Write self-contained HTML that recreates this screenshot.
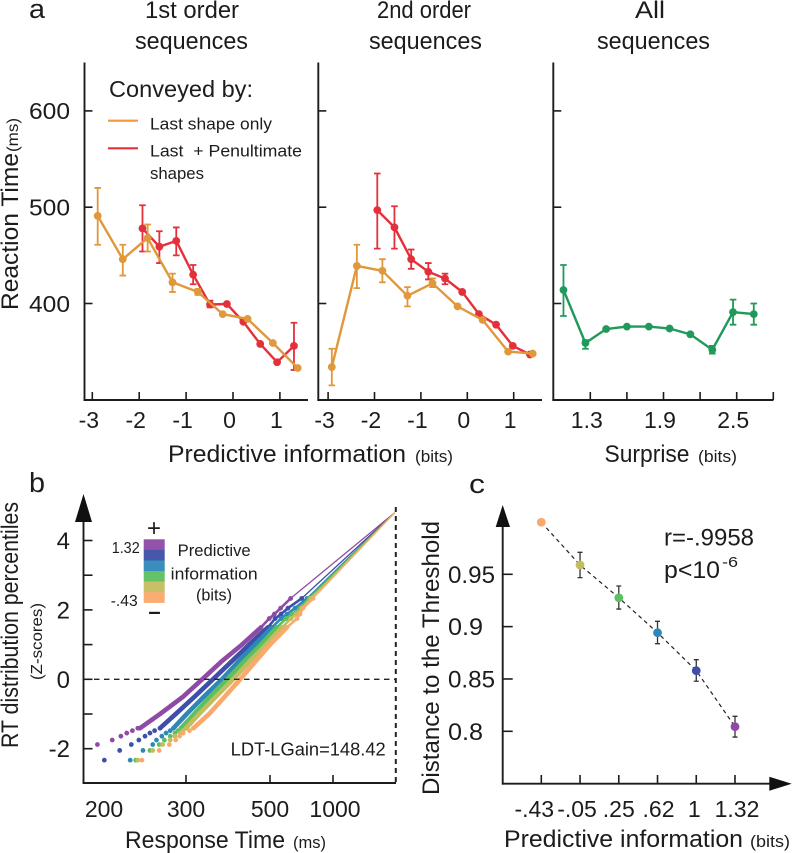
<!DOCTYPE html>
<html lang="en">
<head>
<meta charset="utf-8">
<title>Reaction time and predictive information figure</title>
<style>
html,body{margin:0;padding:0;background:#fff;width:792px;height:853px;overflow:hidden}
svg{display:block}
text{font-family:"Liberation Sans",sans-serif;fill:#1c1c1c}
</style>
</head>
<body>
<svg id="fig" xmlns="http://www.w3.org/2000/svg" width="792" height="853" viewBox="0 0 792 853">
<rect x="0" y="0" width="792" height="853" fill="#fff"/>

<text x="29" y="18" font-size="27" textLength="16" lengthAdjust="spacingAndGlyphs">a</text>
<text x="29" y="492" font-size="28" textLength="16" lengthAdjust="spacingAndGlyphs">b</text>
<text x="469" y="493" font-size="27" textLength="16" lengthAdjust="spacingAndGlyphs">c</text>

<text x="145" y="18" font-size="24" textLength="94" lengthAdjust="spacingAndGlyphs">1st order</text>
<text x="135" y="49" font-size="24" textLength="113" lengthAdjust="spacingAndGlyphs">sequences</text>
<text x="377" y="18" font-size="24" textLength="94" lengthAdjust="spacingAndGlyphs">2nd order</text>
<text x="369" y="49" font-size="24" textLength="113" lengthAdjust="spacingAndGlyphs">sequences</text>
<text x="635" y="18" font-size="24" textLength="30" lengthAdjust="spacingAndGlyphs">All</text>
<text x="597" y="49" font-size="24" textLength="113" lengthAdjust="spacingAndGlyphs">sequences</text>

<text transform="translate(18,310) rotate(-90)" font-size="24" textLength="157" lengthAdjust="spacingAndGlyphs">Reaction Time</text>
<text transform="translate(18,152) rotate(-90)" font-size="16" textLength="34" lengthAdjust="spacingAndGlyphs">(ms)</text>

<text x="109" y="97" font-size="23" textLength="144" lengthAdjust="spacingAndGlyphs">Conveyed by:</text>
<line x1="108" y1="120.7" x2="138" y2="120.7" stroke="#f3993a" stroke-width="2.2"/>
<text x="150" y="129.3" font-size="17" textLength="122" lengthAdjust="spacingAndGlyphs">Last shape only</text>
<line x1="108" y1="148.3" x2="138" y2="148.3" stroke="#e8303a" stroke-width="2.2"/>
<text x="150" y="156.7" font-size="17" textLength="152" lengthAdjust="spacingAndGlyphs" xml:space="preserve">Last  + Penultimate</text>
<text x="150" y="179" font-size="17" textLength="54" lengthAdjust="spacingAndGlyphs">shapes</text>

<text x="168" y="462" font-size="24" textLength="238" lengthAdjust="spacingAndGlyphs">Predictive information</text>
<text x="415" y="462" font-size="16.5" textLength="38" lengthAdjust="spacingAndGlyphs">(bits)</text>
<text x="604.5" y="462" font-size="24" textLength="85" lengthAdjust="spacingAndGlyphs">Surprise</text>
<text x="698" y="462" font-size="16.5" textLength="39" lengthAdjust="spacingAndGlyphs">(bits)</text>

<g id="panelA1"></g>
<g id="panelA2"></g>
<g id="panelA3"></g>

<text transform="translate(18,748) rotate(-90)" font-size="24" textLength="246" lengthAdjust="spacingAndGlyphs">RT distribution percentiles</text>
<text transform="translate(42,680) rotate(-90)" font-size="16" textLength="77" lengthAdjust="spacingAndGlyphs">(Z-scores)</text>
<g id="panelB"></g>
<text x="154" y="536" font-size="24" text-anchor="middle">+</text>
<text x="154.5" y="619" font-size="22" font-weight="bold" text-anchor="middle">–</text>
<text x="111.7" y="553" font-size="16" textLength="28" lengthAdjust="spacingAndGlyphs">1.32</text>
<text x="110.7" y="606" font-size="16" textLength="27" lengthAdjust="spacingAndGlyphs">-.43</text>
<text x="177.7" y="556" font-size="16.5" textLength="73" lengthAdjust="spacingAndGlyphs">Predictive</text>
<text x="170.7" y="579.3" font-size="16.5" textLength="87" lengthAdjust="spacingAndGlyphs">information</text>
<text x="196" y="600.7" font-size="16.5" textLength="36" lengthAdjust="spacingAndGlyphs">(bits)</text>
<text x="230.7" y="755.7" font-size="18" textLength="155" lengthAdjust="spacingAndGlyphs">LDT-LGain=148.42</text>
<text x="125" y="848" font-size="24" textLength="160" lengthAdjust="spacingAndGlyphs">Response Time</text>
<text x="293" y="848" font-size="16.5" textLength="33" lengthAdjust="spacingAndGlyphs">(ms)</text>

<text transform="translate(439,795) rotate(-90)" font-size="24" textLength="274" lengthAdjust="spacingAndGlyphs">Distance to the Threshold</text>
<g id="panelC"></g>
<text x="664" y="545.7" font-size="24" textLength="90" lengthAdjust="spacingAndGlyphs">r=-.9958</text>
<text x="664" y="578" font-size="24" textLength="56" lengthAdjust="spacingAndGlyphs">p&lt;10</text>
<text x="722" y="567" font-size="15" textLength="16" lengthAdjust="spacingAndGlyphs">-6</text>
<text x="504" y="847" font-size="24" textLength="239" lengthAdjust="spacingAndGlyphs">Predictive information</text>
<text x="750" y="847" font-size="16.5" textLength="40" lengthAdjust="spacingAndGlyphs">(bits)</text>
</svg>

<script>
// ---------- Panel a data ----------
const rtTicks = [400, 500, 600];
const predTicks = [-3, -2, -1, 0, 1];
const surpriseTicks = [1.3, 1.6, 1.9, 2.2, 2.5, 2.8];
const surpriseTickLabels = ["1.3", "", "1.9", "", "2.5", ""];

const first_lastX = [-2.885, -2.35, -1.82, -1.29, -0.75, -0.22, 0.31, 0.85, 1.38];
const first_lastRT = [491, 446, 468, 422, 412, 389, 384, 359, 333];
const first_lastLow = [461, 429, 454, 412, 409, null, null, null, null];
const first_lastHigh = [520, 461, 482, 431, 415, null, null, null, null];

const first_pairX = [-1.93, -1.57, -1.21, -0.85, -0.49, -0.13, 0.22, 0.58, 0.94, 1.30];
const first_pairRT = [478, 459, 465, 430, 399, 399.5, 381, 358, 339, 356];
const first_pairLow = [454, 442, 450, 420, 396, null, null, null, null, 331];
const first_pairHigh = [502, 475, 479, 440, 403, null, null, null, null, 380];

const second_lastX = [-2.92, -2.38, -1.83, -1.29, -0.75, -0.21, 0.33, 0.88, 1.41];
const second_lastRT = [334, 439, 434, 408, 421, 397, 383, 350, 348];
const second_lastLow = [315, 416, 422, 397, 417, null, null, null, null];
const second_lastHigh = [353, 461, 446, 417, 426, null, null, null, null];

const second_pairX = [-1.94, -1.57, -1.21, -0.84, -0.48, -0.11, 0.25, 0.62, 0.98, 1.35];
const second_pairRT = [497, 479, 446, 433, 426, 412, 389, 378, 356, 347];
const second_pairLow = [457, 457, 436, 425, 420, null, null, null, null, null];
const second_pairHigh = [535, 501, 456, 442, 431, null, null, null, null, null];

const allX = [1.08, 1.26, 1.43, 1.60, 1.78, 1.95, 2.12, 2.30, 2.47, 2.64];
const allRT = [414, 359, 373.5, 376, 376, 374, 368, 352, 391, 389];
const allLow = [387, 353, null, null, null, null, null, 348, 378, 378];
const allHigh = [440, 362, null, null, null, null, null, 356, 404, 400];

// ---------- Panel b data (response time in ms at each z-score) ----------
const zTicks = [4, 3, 2, 1, 0, -1, -2];
const zTickLabels = ["4", "", "2", "", "0", "", "-2"];
const rtAxisTicks = [300, 500, 1000];
const rtAxisLabels = [200, 300, 500, 1000];
const zTail = [-2.33, -2.05, -1.88, -1.75, -1.64, -1.55, -1.48, -1.41];
const zBand = [-1.41, -1, -0.5, 0, 0.5, 1, 1.5];
const zTop = [1.75, 1.88, 2.05, 2.33];
const zTip = 4.8;
const rtTip = 50000;

const purpleTail = [null, null, 211, 222, 229, 234, 239, 244];
const purpleBand = [246, 267, 296, 325, 360, 409, 467];
const purpleTop = [497, 518, 546, 598];
const blueTail = [216, 228, 238, 245, 251, 256, 261, 267];
const blueBand = [267, 286, 313, 344, 382, 429, 492];
const blueTop = [521, 548, 583, 668];
const tealTail = [237, 249, 259, 263, 269, 274, 279, 283];
const tealBand = [283, 301, 328, 362, 399, 447, 508];
const tealTop = [548, 578, 624, 708];
const greenTail = [242, 256, 266, 272, 279, 285, 289, 293];
const greenBand = [293, 312, 339, 373, 414, 467, 529];
const greenTop = [573, 606, 656, 724];
const oliveTail = [244, 259, 270, 279, 285, 292, 296, 300];
const oliveBand = [300, 320, 350, 387, 429, 485, 553];
const oliveTop = [600, 630, 670, 741];
const orangeTail = [248, 266, 278, 286, 291, 296, 305, 311];
const orangeBand = [311, 337, 368, 404, 447, 500, 578];
const orangeTop = [636, 656, 677, 759];

const infoLevels = ["purple", "blue", "teal", "green", "olive", "orange"];

// ---------- Panel c data ----------
const cCategories = ["-.43", "-.05", ".25", ".62", "1", "1.32"];
const cValues = [0.9997, 0.9589, 0.9276, 0.8942, 0.8579, 0.8044];
const cLow = [null, 0.9468, 0.9168, 0.8837, 0.8478, 0.7945];
const cHigh = [null, 0.971, 0.9388, 0.9051, 0.8684, 0.8143];
const cTicks = [0.95, 0.9, 0.85, 0.8];
const cTickLabels = ["0.95", "0.9", "0.85", "0.8"];

// ---------- Styling ----------
const ORANGE = "#e0983c", RED = "#e4303a", GREEN = "#1f9a5a", INK = "#1c1c1c";
const levelColor = {purple:"#8e4aa5", blue:"#3d4fa8", teal:"#2f87b8", green:"#5cc060", olive:"#c4bd60", orange:"#f9a96c"};
const cLabelNudge = [-7, -3, 0, 1, -2, 2];

// ---------- Axis functions ----------
const yRT = v => 303.5 - (v - 400) * 0.963;
const xA1 = v => 233 + 46.9 * v;
const xA2 = v => 467.3 + 46.4 * v;
const xA3 = v => 590.3 + 122 * (v - 1.3);
const xB = rt => 396 - 63000 / rt;
const yB = z => 679.3 - 34.7 * z;
const xC = i => 541.3 + 38.74 * i;
const yC = v => 731.3 - (v - 0.8) * 1046.7;

const NS = "http://www.w3.org/2000/svg";
function mk(parent, tag, attrs, text) {
  const el = document.createElementNS(NS, tag);
  for (const k in attrs) el.setAttribute(k, attrs[k]);
  if (text !== undefined) el.textContent = text;
  parent.appendChild(el);
  return el;
}
function pts(list) { return list.map(p => p[0].toFixed(1) + "," + p[1].toFixed(1)).join(" "); }

function drawFrame(g, x0, x1, xFn, ticks, labels) {
  let el = mk(g, "line", {x1:x0, y1:62.5, x2:x0, y2:400.9, stroke:INK, "stroke-width":1.9});
  
  
  el = mk(g, "line", {x1:x0-0.9, y1:400, x2:x1, y2:400, stroke:INK, "stroke-width":1.9});
  
  
  rtTicks.forEach(v => {
    const t = mk(g, "line", {x1:x0, y1:yRT(v), x2:x0+8, y2:yRT(v), stroke:INK, "stroke-width":1.6});
    
    
  });
  ticks.forEach((v, i) => {
    const t = mk(g, "line", {x1:xFn(v), y1:400, x2:xFn(v), y2:392, stroke:INK, "stroke-width":1.6});
    
    
    if (labels[i] !== "") {
      const lab = mk(g, "text", {x:xFn(v)-3.5, y:428, "font-size":23, "text-anchor":"middle"}, labels[i]);
      
      
    }
  });
}

function drawSeries(g, name, xFn, xs, ys, lows, highs, color) {
  const line = mk(g, "polyline", {points:pts(xs.map((x,i)=>[xFn(x), yRT(ys[i])])), fill:"none", stroke:color, "stroke-width":2.4});
  
  
  xs.forEach((x, i) => {
    const px = xFn(x);
    if (lows[i] !== null) {
      const bar = mk(g, "path", {d:`M${px-3.3} ${yRT(highs[i])}H${px+3.3}M${px} ${yRT(highs[i])}V${yRT(lows[i])}M${px-3.3} ${yRT(lows[i])}H${px+3.3}`, fill:"none", stroke:color, "stroke-width":1.8});
      
      
    }
    const dot = mk(g, "circle", {cx:px, cy:yRT(ys[i]), r:3.9, fill:color});
    
    
  });
}

// ---------- Panel a ----------
const gA1 = document.getElementById("panelA1");
const gA2 = document.getElementById("panelA2");
const gA3 = document.getElementById("panelA3");
const predLabels = predTicks.map(String);
drawFrame(gA1, 84.5, 308, xA1, predTicks, predLabels);
drawFrame(gA2, 318.3, 542, xA2, predTicks, predLabels);
drawFrame(gA3, 553.3, 773.5, xA3, surpriseTicks, surpriseTickLabels);
rtTicks.forEach(v => {
  const lab = mk(gA1, "text", {x:70, y:yRT(v)+8.3, "font-size":23, "text-anchor":"end", textLength:41, lengthAdjust:"spacingAndGlyphs"}, String(v));
  
  
});
drawSeries(gA1, "first-order-pair", xA1, first_pairX, first_pairRT, first_pairLow, first_pairHigh, RED);
drawSeries(gA1, "first-order-last", xA1, first_lastX, first_lastRT, first_lastLow, first_lastHigh, ORANGE);
drawSeries(gA2, "second-order-pair", xA2, second_pairX, second_pairRT, second_pairLow, second_pairHigh, RED);
drawSeries(gA2, "second-order-last", xA2, second_lastX, second_lastRT, second_lastLow, second_lastHigh, ORANGE);
drawSeries(gA3, "all-sequences", xA3, allX, allRT, allLow, allHigh, GREEN);

// ---------- Panel b ----------
const gB = document.getElementById("panelB");
const bTails = [purpleTail, blueTail, tealTail, greenTail, oliveTail, orangeTail];
const bBands = [purpleBand, blueBand, tealBand, greenBand, oliveBand, orangeBand];
const bTops = [purpleTop, blueTop, tealTop, greenTop, oliveTop, orangeTop];

infoLevels.forEach((name, s) => {
  const color = levelColor[name];
  const segs = mk(gB, "rect", {x:143.7, y:539.3 + s*10.57, width:21, height:10.8, fill:color, opacity:0.95});
  
  
});

infoLevels.forEach((name, s) => {
  const color = levelColor[name];
  const tail = bTails[s], band = bBands[s], top = bTops[s];
  const tipLine = mk(gB, "polyline", {points:pts([[xB(top[3]), yB(zTop[3])], [xB(rtTip), yB(zTip)]]), fill:"none", stroke:color, "stroke-width":1.3});
  
  
  const midLine = mk(gB, "polyline", {points:pts([[xB(band[6]), yB(zBand[6])]].concat(top.map((rt,i)=>[xB(rt), yB(zTop[i])]))), fill:"none", stroke:color, "stroke-width":2.6});
  
  
  const bandLine = mk(gB, "polyline", {points:pts(band.map((rt,i)=>[xB(rt), yB(zBand[i])])), fill:"none", stroke:color, "stroke-width":4.6, "stroke-linecap":"round", "stroke-linejoin":"round"});
  
  
  tail.forEach((rt, i) => {
    if (rt === null) return;
    const d = mk(gB, "circle", {cx:xB(rt), cy:yB(zTail[i]), r:2.4, fill:color});
    
    
  });
  top.forEach((rt, i) => {
    const d = mk(gB, "circle", {cx:xB(rt), cy:yB(zTop[i]), r:2.4, fill:color});
    
    
  });
});

let bEl = mk(gB, "line", {x1:84, y1:yB(0), x2:395, y2:yB(0), stroke:"#222", "stroke-width":1.3, "stroke-dasharray":"5.5 4.5"});


bEl = mk(gB, "line", {x1:395.8, y1:507, x2:395.8, y2:783, stroke:"#222", "stroke-width":2, "stroke-dasharray":"5 4"});


bEl = mk(gB, "line", {x1:83.5, y1:515, x2:83.5, y2:783.9, stroke:INK, "stroke-width":1.9});


bEl = mk(gB, "polygon", {points:"83.5,494 92,522 75,522", fill:"#111"});


bEl = mk(gB, "line", {x1:82.6, y1:783, x2:396, y2:783, stroke:INK, "stroke-width":1.9});


zTicks.forEach((z, i) => {
  const t = mk(gB, "line", {x1:83.5, y1:yB(z), x2:92.5, y2:yB(z), stroke:INK, "stroke-width":1.6});
  
  
  if (zTickLabels[i] !== "") {
    const lab = mk(gB, "text", {x:70, y:yB(z)+8.5, "font-size":24, "text-anchor":"end"}, zTickLabels[i]);
    
    
  }
});
rtAxisTicks.forEach(rt => {
  const t = mk(gB, "line", {x1:xB(rt), y1:783, x2:xB(rt), y2:775, stroke:INK, "stroke-width":1.6});
  
  
});
rtAxisLabels.forEach(rt => {
  const nudge = rt === 200 ? 23 : (rt === 1000 ? 2 : 0);
  const lab = mk(gB, "text", {x:xB(rt)+nudge, y:817, "font-size":23, "text-anchor":"middle"}, String(rt));
  
  
});

// ---------- Panel c ----------
const gC = document.getElementById("panelC");
let cEl = mk(gC, "line", {x1:502.7, y1:520, x2:502.7, y2:784.6, stroke:INK, "stroke-width":1.9});


cEl = mk(gC, "polygon", {points:"502.7,505 510,527 495.7,527", fill:"#111"});


cEl = mk(gC, "line", {x1:502, y1:783.7, x2:772, y2:783.7, stroke:INK, "stroke-width":1.9});


cEl = mk(gC, "polygon", {points:"791.7,783.7 769.3,776.7 769.3,790.7", fill:"#111"});


cTicks.forEach((v, i) => {
  const t = mk(gC, "line", {x1:502.7, y1:yC(v), x2:512.7, y2:yC(v), stroke:INK, "stroke-width":1.6});
  
  
  const lab = mk(gC, "text", {x:448, y:yC(v)+8.5, "font-size":24, textLength:cTickLabels[i].length === 4 ? 47 : 35, lengthAdjust:"spacingAndGlyphs"}, cTickLabels[i]);
  
  
});
cCategories.forEach((c, i) => {
  const t = mk(gC, "line", {x1:xC(i), y1:783.7, x2:xC(i), y2:775, stroke:INK, "stroke-width":1.6});
  
  
  const lab = mk(gC, "text", {x:xC(i)+cLabelNudge[i], y:817, "font-size":23, "text-anchor":"middle"}, c);
  
  
});
cEl = mk(gC, "polyline", {points:pts(cValues.map((v,i)=>[xC(i), yC(v)])), fill:"none", stroke:"#222", "stroke-width":1.2, "stroke-dasharray":"4 3.5"});


cValues.forEach((v, i) => {
  const px = xC(i);
  if (cLow[i] !== null) {
    const bar = mk(gC, "path", {d:`M${px-2.5} ${yC(cHigh[i])}H${px+2.5}M${px} ${yC(cHigh[i])}V${yC(cLow[i])}M${px-2.5} ${yC(cLow[i])}H${px+2.5}`, fill:"none", stroke:"#333", "stroke-width":1.3});
    
    
  }
  const dot = mk(gC, "circle", {cx:px, cy:yC(v), r:4.4, fill:levelColor[infoLevels[5-i]]});
  
  
});
</script>
</body>
</html>
